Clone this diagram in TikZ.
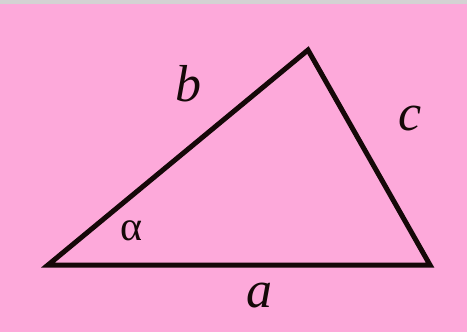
\documentclass[tikz,border=0pt]{standalone}
\usepackage{fontspec}
\setmainfont{Liberation Serif}
\usepackage{tikz}
\usetikzlibrary{positioning,calc}
\definecolor{bgpink}{HTML}{FDA9DA}
\definecolor{bggrey}{HTML}{D4D2D3}
\definecolor{inkblack}{HTML}{150808}
\tikzset{
  side/.style  = {draw=inkblack, line width=5pt, line join=miter},
  lbl/.style   = {text=inkblack, inner sep=0pt, font=\fontsize{52}{52}\selectfont\itshape},
  angl/.style  = {text=inkblack, inner sep=0pt, font=\fontsize{42}{42}\selectfont},
}
\begin{document}
\begin{tikzpicture}[x=1pt, y=-1pt]
  % background
  \fill[bgpink] (0,0) rectangle (467,332);
  \fill[bggrey] (0,0) rectangle (467,4);
  \useasboundingbox (0,0) rectangle (467,332);
  % vertices
  \coordinate (A) at (48,265);
  \coordinate (B) at (308,50);
  \coordinate (C) at (430,265);
  % triangle
  \draw[side] (A) -- (B) -- (C) -- cycle;
  % side labels
  \node[lbl] (b) at (188,84) {b};
  \node[lbl] (c) at (410,119) {c};
  \node[lbl] (a) at (259,296) {a};
  \node[angl] (alpha) at (132,231) {α};
\end{tikzpicture}
\end{document}
